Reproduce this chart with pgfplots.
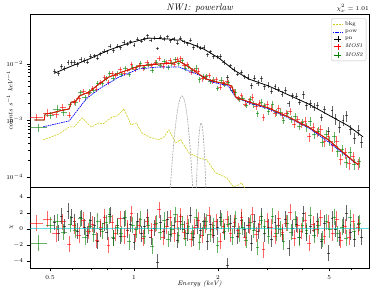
\documentclass[border=0pt]{standalone}
\usepackage{pgfplots}
\usepackage{pgfplotstable}
\pgfplotsset{compat=1.18}
\definecolor{bkgc}{rgb}{0.8,0.8,0.1}
\definecolor{mosg}{rgb}{0,0.5,0}
\definecolor{zeroc}{rgb}{0,0.75,0.75}

\pgfplotstableread{
E V ey chi
0.52 0.00745 0.10 0.8
0.535 0.00694 0.10 -0.5
0.55 0.00905 0.10 1.6
0.565 0.00845 0.10 0.3
0.58 0.0106 0.10 2.2
0.595 0.0105 0.10 1.5
0.61 0.0105 0.10 0.9
0.627 0.00989 0.10 -0.3
0.645 0.0123 0.10 1.4
0.663 0.0116 0.10 0.2
0.68 0.0109 0.10 -0.8
0.70 0.0137 0.08 1.1
0.72 0.0140 0.08 0.5
0.74 0.0127 0.08 -1.5
0.76 0.0153 0.08 0.0
0.78 0.0171 0.08 0.7
0.80 0.0166 0.08 -0.4
0.82 0.0206 0.08 1.8
0.845 0.0172 0.08 -1.2
0.87 0.0207 0.08 0.4
0.895 0.0196 0.08 -0.9
0.92 0.0244 0.08 1.3
0.945 0.0226 0.08 -0.2
0.97 0.0250 0.08 0.6
1.0 0.0214 0.08 -1.7
1.03 0.0279 0.08 1.0
1.06 0.0254 0.08 -0.6
1.09 0.0283 0.08 0.3
1.12 0.0319 0.08 1.5
1.15 0.0265 0.08 -1.0
1.18 0.0289 0.08 0.1
1.21 0.0189 0.08 -4.2
1.245 0.0301 0.08 0.8
1.28 0.0274 0.08 -0.3
1.315 0.0305 0.08 1.2
1.35 0.0260 0.08 -0.7
1.39 0.0281 0.08 0.5
1.43 0.0234 0.08 -1.4
1.47 0.0289 0.08 0.9
1.51 0.0248 0.09 0.0
1.55 0.0228 0.09 -0.5
1.59 0.0266 0.09 1.7
1.635 0.0198 0.09 -1.1
1.68 0.0215 0.09 0.4
1.73 0.0192 0.09 -0.2
1.78 0.0201 0.09 1.0
1.83 0.0146 0.09 -1.6
1.88 0.0165 0.09 0.6
1.93 0.0135 0.09 -0.8
1.985 0.0135 0.09 0.2
2.04 0.0137 0.09 1.4
2.10 0.0106 0.09 -0.4
2.16 0.00574 0.09 -4.6
2.22 0.00935 0.09 0.7
2.28 0.00801 0.09 0.3
2.35 0.00662 0.09 -0.9
2.42 0.00725 0.09 1.1
2.49 0.00595 0.09 -0.1
2.56 0.00583 0.12 0.5
2.63 0.00416 0.12 -1.8
2.70 0.00565 0.12 0.9
2.78 0.00463 0.12 -0.3
2.86 0.00548 0.12 1.6
2.94 0.00399 0.12 -0.6
3.02 0.00420 0.12 0.2
3.11 0.00329 0.12 -1.3
3.20 0.00395 0.12 0.8
3.29 0.00356 0.12 0.4
3.39 0.00293 0.12 -0.7
3.49 0.00343 0.12 1.2
3.59 0.00199 0.12 -2.4
3.70 0.00273 0.12 0.1
3.81 0.00268 0.12 0.6
3.92 0.00211 0.12 -1.0
4.04 0.00287 0.16 1.9
4.16 0.00184 0.16 -0.5
4.28 0.00199 0.16 0.3
4.41 0.00174 0.16 -0.2
4.54 0.00186 0.16 1.0
4.68 0.00114 0.16 -1.5
4.82 0.00156 0.16 0.7
4.97 0.00065 0.16 -3.0
5.12 0.00150 0.22 1.3
5.28 0.00108 0.22 0.0
5.44 0.000758 0.22 -1.1
5.61 0.00101 0.22 0.5
5.78 0.00121 0.22 2.0
5.96 0.000693 0.22 -0.4
6.15 0.000486 0.22 -1.3
6.35 0.000679 0.22 0.6
6.55 0.000413 0.22 -1.0
}\pn

\pgfplotstableread{
E V ex ey chi
0.445 0.00113 0.06 0.15 0.7
0.49 0.00136 0.035 0.15 1.2
0.525 0.00128 0.03 0.15 -0.6
0.555 0.00170 0.025 0.15 0.9
0.585 0.00124 0.02 0.12 -1.9
0.61 0.00210 0.02 0.12 0.4
0.635 0.00244 0.02 0.12 -0.8
0.66 0.00328 0.02 0.12 1.1
0.685 0.00299 0.02 0.12 -0.3
0.71 0.00371 0.016 0.10 0.6
0.735 0.00353 0.016 0.10 -1.4
0.76 0.00469 0.016 0.10 0.2
0.785 0.00587 0.016 0.10 1.5
0.81 0.00464 0.016 0.10 -2.0
0.835 0.00670 0.016 0.10 0.8
0.86 0.00627 0.016 0.10 -0.5
0.89 0.00791 0.016 0.10 1.3
0.92 0.00673 0.016 0.10 -0.9
0.95 0.00788 0.016 0.10 0.1
0.98 0.00988 0.016 0.10 1.9
1.01 0.00809 0.016 0.10 -0.7
1.045 0.00957 0.016 0.10 0.4
1.08 0.00827 0.016 0.10 -1.2
1.115 0.01056 0.016 0.10 1.0
1.15 0.00951 0.016 0.10 -0.2
1.19 0.01049 0.016 0.10 0.6
1.23 0.0124 0.016 0.10 2.4
1.27 0.00909 0.016 0.10 -1.0
1.31 0.01051 0.016 0.10 0.3
1.35 0.01174 0.016 0.10 1.4
1.39 0.00978 0.016 0.10 -0.6
1.43 0.0120 0.016 0.10 0.9
1.47 0.01276 0.016 0.10 1.6
1.51 0.00956 0.015 0.11 -0.4
1.555 0.0098 0.015 0.11 0.7
1.60 0.0072 0.015 0.11 -1.3
1.65 0.00767 0.015 0.11 0.2
1.70 0.00751 0.015 0.11 1.1
1.75 0.00547 0.015 0.11 -0.8
1.80 0.0058 0.015 0.11 0.5
1.855 0.00629 0.015 0.11 1.7
1.91 0.00495 0.015 0.11 -0.1
1.97 0.00528 0.015 0.11 0.9
2.03 0.00392 0.015 0.11 -1.5
2.09 0.00465 0.015 0.11 0.3
2.155 0.00498 0.015 0.11 1.2
2.22 0.00383 0.015 0.11 -0.6
2.29 0.00326 0.015 0.11 0.8
2.36 0.00245 0.015 0.11 -0.2
2.43 0.0028 0.015 0.11 1.5
2.50 0.00193 0.015 0.11 -1.1
2.58 0.00222 0.015 0.14 0.4
2.66 0.00254 0.015 0.14 1.8
2.74 0.00176 0.015 0.14 -0.7
2.82 0.00203 0.015 0.14 0.6
2.91 0.00113 0.015 0.14 -2.6
3.0 0.00193 0.015 0.14 1.0
3.1 0.00163 0.015 0.14 0.2
3.2 0.00131 0.015 0.14 -0.9
3.3 0.00165 0.015 0.14 1.3
3.4 0.00124 0.015 0.14 -0.4
3.51 0.00133 0.015 0.14 0.7
3.62 0.00145 0.015 0.14 2.1
3.74 0.000865 0.015 0.14 -1.2
3.86 0.00103 0.015 0.14 0.5
3.98 0.000853 0.015 0.14 -0.3
4.11 0.000982 0.015 0.18 1.1
4.24 0.000514 0.015 0.18 -1.8
4.38 0.000753 0.015 0.18 0.6
4.52 0.00062 0.015 0.18 0.0
4.67 0.000689 0.015 0.18 1.4
4.82 0.000419 0.015 0.18 -0.9
4.98 0.000515 0.015 0.18 0.8
5.15 0.000356 0.016 0.22 -0.5
5.32 0.00043 0.016 0.22 1.2
5.5 0.000208 0.016 0.22 -1.4
5.7 0.000267 0.016 0.22 0.3
5.9 0.000172 0.016 0.22 -1.0
6.1 0.000228 0.016 0.22 0.9
6.35 0.00017 0.018 0.22 0.2
}\mosone

\pgfplotstableread{
E V ex ey chi
0.455 0.000745 0.07 0.15 -1.8
0.50 0.00124 0.035 0.15 0.5
0.53 0.0016 0.03 0.15 0.9
0.56 0.00141 0.025 0.15 -0.4
0.59 0.00193 0.02 0.12 0.6
0.617 0.00205 0.02 0.12 -0.2
0.642 0.00312 0.02 0.12 1.3
0.667 0.00255 0.02 0.12 -1.0
0.692 0.00321 0.02 0.12 0.3
0.717 0.00335 0.016 0.10 -0.7
0.742 0.00462 0.016 0.10 1.0
0.768 0.00456 0.016 0.10 -0.3
0.793 0.00562 0.016 0.10 0.8
0.818 0.00684 0.016 0.10 1.6
0.843 0.00561 0.016 0.10 -1.1
0.869 0.00683 0.016 0.10 0.2
0.899 0.00667 0.016 0.10 -0.6
0.929 0.00855 0.016 0.10 1.4
0.96 0.00664 0.016 0.10 -1.6
0.99 0.00882 0.016 0.10 0.5
1.02 0.00871 0.016 0.10 -0.1
1.055 0.01042 0.016 0.10 1.2
1.09 0.00865 0.016 0.10 -0.9
1.126 0.00998 0.016 0.10 0.4
1.162 0.00764 0.016 0.10 -2.2
1.2 0.01059 0.016 0.10 0.7
1.242 0.0096 0.016 0.10 -0.4
1.283 0.01121 0.016 0.10 1.1
1.323 0.00887 0.016 0.10 -1.3
1.364 0.0103 0.016 0.10 0.0
1.404 0.01227 0.016 0.10 1.8
1.444 0.01012 0.016 0.10 -0.8
1.485 0.01155 0.016 0.10 0.6
1.525 0.00851 0.015 0.11 -1.2
1.57 0.00919 0.015 0.11 0.3
1.616 0.00775 0.015 0.11 -0.5
1.666 0.0085 0.015 0.11 1.5
1.717 0.00528 0.015 0.11 -1.7
1.768 0.00596 0.015 0.11 0.1
1.818 0.00604 0.015 0.11 0.9
1.874 0.00489 0.015 0.11 -0.7
1.93 0.00522 0.015 0.11 0.4
1.99 0.00374 0.015 0.11 -2.0
2.05 0.00522 0.015 0.11 1.0
2.11 0.00435 0.015 0.11 -0.3
2.176 0.00469 0.015 0.11 0.6
2.242 0.00347 0.015 0.11 -1.0
2.313 0.0032 0.015 0.11 1.3
2.384 0.00234 0.015 0.11 -0.6
2.454 0.00245 0.015 0.11 0.2
2.525 0.00186 0.015 0.11 -1.4
2.606 0.00234 0.015 0.14 0.8
2.687 0.00194 0.015 0.14 -0.2
2.767 0.00131 0.015 0.14 -2.3
2.848 0.00213 0.015 0.14 1.1
2.939 0.00182 0.015 0.14 0.3
3.03 0.00146 0.015 0.14 -0.9
3.131 0.00192 0.015 0.14 1.6
3.232 0.00138 0.015 0.14 -0.5
3.333 0.00138 0.015 0.14 0.0
3.434 0.0010 0.015 0.14 -1.6
3.545 0.00131 0.015 0.14 0.7
3.656 0.00104 0.015 0.14 -0.4
3.777 0.00119 0.015 0.14 1.2
3.899 0.000795 0.015 0.14 -1.1
4.02 0.000931 0.015 0.14 0.5
4.151 0.000771 0.015 0.18 -0.2
4.282 0.000966 0.015 0.18 1.7
4.424 0.000565 0.015 0.18 -0.8
4.565 0.000643 0.015 0.18 0.4
4.717 0.000414 0.015 0.18 -1.3
4.868 0.000569 0.015 0.18 0.9
5.03 0.000432 0.015 0.18 -0.1
5.202 0.000519 0.016 0.22 1.5
5.373 0.000286 0.016 0.22 -0.6
5.555 0.000303 0.016 0.22 0.2
5.757 0.000184 0.016 0.22 -1.2
5.959 0.000275 0.016 0.22 1.4
6.161 0.000168 0.016 0.22 -0.3
6.414 0.000185 0.018 0.22 0.7
}\mostwo

\pgfplotsset{
  every axis/.append style={
    tick align=outside, tick pos=left,
    major tick length=3.5pt, minor tick length=2pt,
    tick style={black, line width=0.5pt},
    axis line style={line width=0.7pt},
    ticklabel style={font=\fontsize{6}{7}\selectfont},
    label style={font=\fontsize{6.5}{7.5}\selectfont},
  },
}

\begin{document}
\begin{tikzpicture}
\useasboundingbox (-30pt,-23pt) rectangle (344pt,268pt);

% residual panel
\begin{axis}[name=bot, at={(0,0)}, anchor=south west,
  scale only axis, width=339pt, height=81pt,
  xmode=log, xmin=0.424, xmax=6.95,
  ymin=-4.9, ymax=5.25, ytick={-4,-2,0,2,4},
  xtick={0.5,1,2,5}, xticklabels={0.5,1,2,5},
  minor xtick={0.6,0.7,0.8,0.9,3,4,6},
  xlabel={\textit{Energy (keV)}}, ylabel={$\chi$},
  xlabel style={at={(axis description cs:0.5,-0.2)}, anchor=center},
  ylabel style={at={(axis description cs:-0.055,0.5)}, anchor=center},
]
\addplot[draw=none, mark=none, forget plot,
  error bars/.cd, x dir=both, x fixed relative=0.012, y dir=both, y fixed=1,
  error mark=none, error bar style={draw=black, opacity=0.6, line width=0.65pt}]
  table[x=E, y=chi]{\pn};
\addplot[draw=none, mark=none, forget plot,
  error bars/.cd, x dir=both, x explicit relative, y dir=both, y fixed=1,
  error mark=none, error bar style={draw=red, opacity=0.6, line width=0.65pt}]
  table[x=E, y=chi, x error=ex]{\mosone};
\addplot[draw=none, mark=none, forget plot,
  error bars/.cd, x dir=both, x explicit relative, y dir=both, y fixed=1,
  error mark=none, error bar style={draw=mosg, opacity=0.6, line width=0.65pt}]
  table[x=E, y=chi, x error=ex]{\mostwo};
\addplot[zeroc, opacity=0.6, line width=1.1pt, forget plot] coordinates {(0.424,0) (6.95,0)};
\end{axis}

% spectrum panel
\begin{axis}[name=top, at={(0,81pt)}, anchor=south west,
  scale only axis, width=339pt, height=173pt,
  xmode=log, ymode=log, xmin=0.424, xmax=6.95, ymin=6.6e-5, ymax=0.077,
  xtick=\empty,
  ytick={1e-4,1e-3,1e-2},
  ylabel={\textit{counts s$^{-1}$ keV$^{-1}$}},
  ylabel style={at={(axis description cs:-0.06,0.5)}, anchor=center},
  legend style={at={(0.992,0.975)}, anchor=north east, font=\fontsize{5.5}{6.5}\selectfont,
    draw=black!25, rounded corners=1.5pt, inner sep=1.2pt, row sep=-1pt},
  legend cell align=left,
]
\addlegendimage{legend image code/.code={\draw[bkgc, dash pattern=on 2pt off 1pt, line width=0.7pt] (0pt,0pt)--(10pt,0pt);}}
\addlegendentry{bkg}
\addlegendimage{legend image code/.code={\draw[blue, dash pattern=on 1.5pt off 0.8pt, line width=0.7pt] (0pt,0pt)--(10pt,0pt);}}
\addlegendentry{pow}
\addlegendimage{legend image code/.code={\draw[black, line width=0.6pt] (1.5pt,0pt)--(8.5pt,0pt) (5pt,-3pt)--(5pt,3pt);}}
\addlegendentry{pn}
\addlegendimage{legend image code/.code={\draw[red, line width=0.6pt] (1.5pt,0pt)--(8.5pt,0pt) (5pt,-3pt)--(5pt,3pt);}}
\addlegendentry{\textit{MOS1}}
\addlegendimage{legend image code/.code={\draw[mosg, line width=0.6pt] (1.5pt,0pt)--(8.5pt,0pt) (5pt,-3pt)--(5pt,3pt);}}
\addlegendentry{\textit{MOS2}}

% background
\addplot[bkgc, dash pattern=on 2pt off 1pt, line width=0.6pt, forget plot] coordinates {
(0.473,0.000452)(0.54,0.00058)(0.586,0.000767)(0.61,0.000767)(0.652,0.00111)(0.702,0.000767)
(0.75,0.000904)(0.775,0.000867)(0.834,0.00115)(0.869,0.0012)(0.921,0.0016)(0.976,0.000832)
(1.017,0.000904)(1.068,0.000601)(1.131,0.00051)(1.228,0.000452)(1.28,0.00051)(1.334,0.000679)
(1.41,0.0004)(1.47,0.000452)(1.571,0.000266)(1.707,0.000217)(1.82,0.0002)(1.96,0.000118)
(2.15,0.0000959)(2.27,0.0000665)(2.37,0.000072)(2.43,0.0000786)(2.49,0.0000636)(2.575,0.000049)
(2.8,0.00004)(3.2,0.00003)};
% instrumental gaussians
\addplot[gray!70, dash pattern=on 2pt off 1pt, line width=0.6pt, smooth, forget plot] coordinates {
(1.336,3.02e-5)(1.361,1.19e-4)(1.386,3.68e-4)(1.411,8.83e-4)(1.436,1.65e-3)(1.461,2.40e-3)
(1.486,2.72e-3)(1.511,2.40e-3)(1.536,1.65e-3)(1.561,8.83e-4)(1.586,3.68e-4)(1.611,1.19e-4)(1.636,3.02e-5)};
\addplot[gray!70, dash pattern=on 2pt off 1pt, line width=0.6pt, smooth, forget plot] coordinates {
(1.65,1.0e-5)(1.665,3.95e-5)(1.68,1.22e-4)(1.695,2.92e-4)(1.71,5.46e-4)(1.725,7.94e-4)
(1.74,9.0e-4)(1.755,7.94e-4)(1.77,5.46e-4)(1.785,2.92e-4)(1.8,1.22e-4)(1.815,3.95e-5)(1.83,1.0e-5)};

% data
\addplot[draw=none, mark=none, forget plot,
  error bars/.cd, x dir=both, x fixed relative=0.012, y dir=both, y explicit relative,
  error mark=none, error bar style={draw=black, opacity=0.6, line width=0.65pt}]
  table[x=E, y=V, y error=ey]{\pn};
\addplot[draw=none, mark=none, forget plot,
  error bars/.cd, x dir=both, x explicit relative, y dir=both, y explicit relative,
  error mark=none, error bar style={draw=mosg, opacity=0.6, line width=0.65pt}]
  table[x=E, y=V, x error=ex, y error=ey]{\mostwo};
\addplot[draw=none, mark=none, forget plot,
  error bars/.cd, x dir=both, x explicit relative, y dir=both, y explicit relative,
  error mark=none, error bar style={draw=red, opacity=0.6, line width=0.65pt}]
  table[x=E, y=V, x error=ex, y error=ey]{\mosone};

% models
\addplot[black, line width=0.8pt, forget plot] coordinates {
(0.52,0.0069)(0.586,0.00885)(0.691,0.0123)(0.814,0.0177)(0.96,0.0236)(1.131,0.0288)(1.334,0.0277)
(1.43,0.0264)(1.47,0.027)(1.51,0.0248)(1.571,0.0236)(1.778,0.0184)(2.012,0.0128)(2.28,0.00783)
(2.575,0.00543)(3.035,0.00408)(3.577,0.00283)(4.217,0.00196)(4.97,0.00125)(5.859,0.0008)(6.62,0.00051)};
\addplot[blue, dash pattern=on 1.5pt off 0.8pt, line width=0.7pt, forget plot] coordinates {
(0.473,0.00077)(0.586,0.00098)(0.674,0.0024)(0.75,0.00361)(0.884,0.00589)(1.042,0.0082)(1.228,0.00885)
(1.448,0.00885)(1.75,0.0061)(1.9,0.0048)(2.18,0.00408)(2.31,0.00261)(2.575,0.00204)(3.035,0.0016)
(3.577,0.00111)(4.217,0.00074)(4.97,0.000416)(6.2,0.000177)};
\addplot[mosg, line width=0.8pt, forget plot] coordinates {
(0.44,0.00102)(0.477,0.00102)(0.48,0.0013)(0.51,0.00136)(0.54,0.00147)(0.586,0.0016)(0.595,0.0021)
(0.62,0.0022)(0.636,0.0027)(0.691,0.0032)(0.75,0.00443)(0.814,0.00589)(0.906,0.0072)(1.042,0.0092)
(1.228,0.0100)(1.39,0.0104)(1.448,0.0113)(1.571,0.00885)(1.81,0.00543)(1.98,0.0048)(2.13,0.00443)
(2.24,0.00408)(2.31,0.00261)(2.575,0.00213)(3.035,0.00166)(3.577,0.00115)(4.217,0.000767)
(4.97,0.000452)(5.859,0.000226)(6.36,0.000163)};
\addplot[red, line width=0.8pt, forget plot] coordinates {
(0.44,0.00102)(0.477,0.00102)(0.48,0.0013)(0.51,0.00136)(0.54,0.00147)(0.586,0.0016)(0.595,0.0021)
(0.62,0.0022)(0.636,0.0027)(0.691,0.0032)(0.75,0.00443)(0.814,0.00589)(0.906,0.0072)(1.042,0.0092)
(1.228,0.0100)(1.39,0.0104)(1.448,0.0113)(1.571,0.00885)(1.81,0.00543)(1.98,0.0048)(2.13,0.00443)
(2.24,0.00408)(2.31,0.00261)(2.575,0.00213)(3.035,0.00166)(3.577,0.00115)(4.217,0.000767)
(4.97,0.000452)(5.859,0.000226)(6.36,0.000163)};
\end{axis}

\node[anchor=base, font=\fontsize{9.5}{11}\selectfont\itshape] at ([yshift=3.5pt]top.north) {NW1: powerlaw};
\node[anchor=base east, font=\fontsize{6}{7}\selectfont, inner sep=0pt] at ([yshift=3.5pt]top.north east) {$\chi^2_\nu=1.01$};
\end{tikzpicture}
\end{document}
